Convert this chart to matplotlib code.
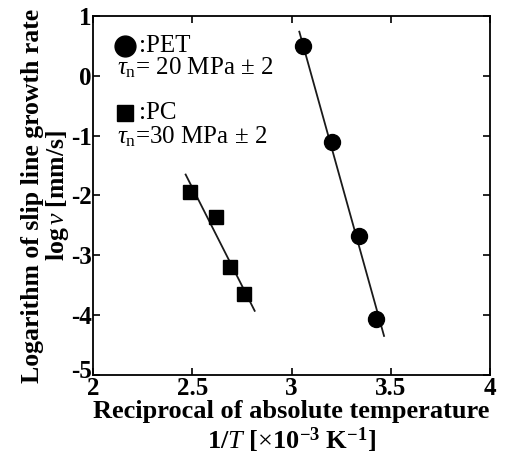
import matplotlib.pyplot as plt
import matplotlib.transforms as mtransforms

plt.rcParams['font.family'] = ['Liberation Serif', 'DejaVu Serif']
plt.rcParams['mathtext.fontset'] = 'custom'
plt.rcParams['mathtext.rm'] = 'Liberation Serif'
plt.rcParams['mathtext.it'] = 'Liberation Serif:italic'
plt.rcParams['mathtext.bf'] = 'Liberation Serif:bold'
plt.rcParams['axes.unicode_minus'] = False

# PET data (circles)
pet_x = [3.056, 3.206, 3.342, 3.424]
pet_y = [0.50, -1.11, -2.68, -4.07]
pet_fit_x = [3.039, 3.466]
pet_fit_y = [0.74, -4.35]

# PC data (squares)
pc_x = [2.489, 2.618, 2.688, 2.761]
pc_y = [-1.95, -2.36, -3.19, -3.65]
pc_fit_x = [2.466, 2.814]
pc_fit_y = [-1.65, -3.93]

x_ticks = [2, 2.5, 3, 3.5, 4]
x_labels = ['2', '2.5', '3', '3.5', '4']
y_ticks = [1, 0, -1, -2, -3, -4, -5]

fig = plt.figure(figsize=(5.12, 4.61), dpi=100)
ax = fig.add_axes([0.182, 0.187, 0.775, 0.778])

ax.plot(pet_fit_x, pet_fit_y, color='#1a1a1a', lw=1.3)
ax.plot(pc_fit_x, pc_fit_y, color='#1a1a1a', lw=1.3)
ax.plot(pet_x, pet_y, 'o', color='black', ms=11.5)
ax.plot(pc_x, pc_y, 's', color='black', ms=9.5)

ax.set_xlim(2, 4)
ax.set_ylim(-5, 1)
ax.set_xticks(x_ticks)
ax.set_xticklabels(x_labels)
ax.set_yticks(y_ticks)
ax.tick_params(direction='in', length=5, width=1.2, labelsize=18, pad=1,
               top=True, right=True)
ax.tick_params(axis='x', pad=1.5)
for lab in ax.get_xticklabels() + ax.get_yticklabels():
    lab.set_fontweight('bold')
for s in ax.spines.values():
    s.set_linewidth(1.3)

# lift the bottom y label a little so it clears the "2" below it
ylabs = ax.get_yticklabels()
ylabs[-1].set_transform(ylabs[-1].get_transform() +
                        mtransforms.ScaledTranslation(0, 4 / 72, fig.dpi_scale_trans))

ax.set_xlabel('Reciprocal of absolute temperature\n'
              r'1/$\mathit{T}$ [$\times$10$^{\mathbf{-3}}$ K$^{\mathbf{-1}}$]',
              fontsize=19, fontweight='bold', labelpad=0, linespacing=1.1)
ax.set_ylabel('Logarithm of slip line growth rate\n'
              r'log$\,\mathit{v}$ [mm/s]',
              fontsize=18.5, fontweight='bold', labelpad=0, linespacing=1.0)

# in-plot key
ax.plot([0.08], [0.918], 'o', color='black', ms=15, transform=ax.transAxes, clip_on=False)
ax.text(0.115, 0.918, ':PET', transform=ax.transAxes, fontsize=18, va='center')
ax.text(0.06, 0.855, r'$\tau_{\rm n}$= 20 MPa ± 2', transform=ax.transAxes,
        fontsize=18, va='center')
ax.plot([0.08], [0.73], 's', color='black', ms=12, transform=ax.transAxes, clip_on=False)
ax.text(0.115, 0.73, ':PC', transform=ax.transAxes, fontsize=18, va='center')
ax.text(0.06, 0.665, r'$\tau_{\rm n}$=30 MPa ± 2', transform=ax.transAxes,
        fontsize=18, va='center')

plt.savefig('out.png', dpi=100)
